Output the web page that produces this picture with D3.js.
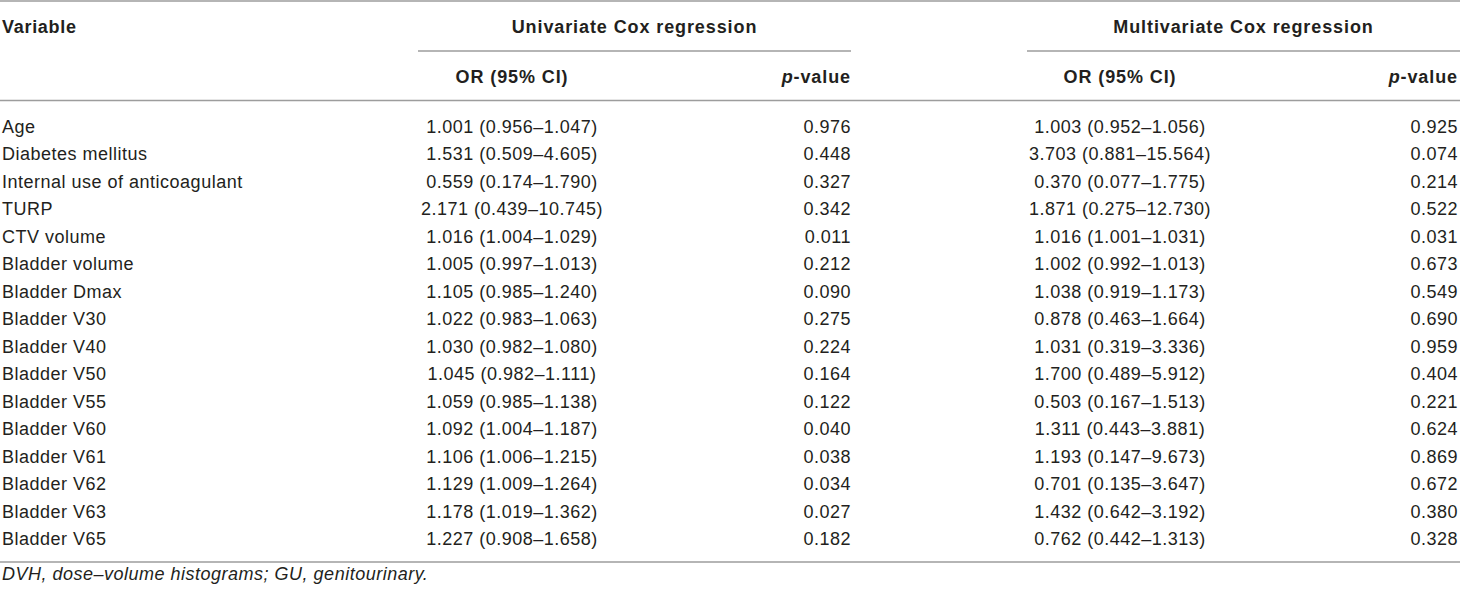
<!DOCTYPE html>
<html>
<head>
<meta charset="utf-8">
<script src="https://cdn.jsdelivr.net/npm/d3@7"></script>
<style>
  body { margin: 0; background: #fff; }
  text { font-family: "Liberation Sans", Arial, sans-serif; fill: #231f20; }
</style>
</head>
<body>
<div id="table"></div>
<script>
const layout = {
    width: 1460,
    height: 593,
    firstRow: 132.5,
    lastRow: 545,
    fontSize: 18
};

// table content
const variables = ["Age", "Diabetes mellitus", "Internal use of anticoagulant", "TURP", "CTV volume",
    "Bladder volume", "Bladder Dmax", "Bladder V30", "Bladder V40", "Bladder V50", "Bladder V55",
    "Bladder V60", "Bladder V61", "Bladder V62", "Bladder V63", "Bladder V65"];
const uniOR = ["1.001 (0.956–1.047)", "1.531 (0.509–4.605)", "0.559 (0.174–1.790)", "2.171 (0.439–10.745)",
    "1.016 (1.004–1.029)", "1.005 (0.997–1.013)", "1.105 (0.985–1.240)", "1.022 (0.983–1.063)",
    "1.030 (0.982–1.080)", "1.045 (0.982–1.111)", "1.059 (0.985–1.138)", "1.092 (1.004–1.187)",
    "1.106 (1.006–1.215)", "1.129 (1.009–1.264)", "1.178 (1.019–1.362)", "1.227 (0.908–1.658)"];
const uniP = ["0.976", "0.448", "0.327", "0.342", "0.011", "0.212", "0.090", "0.275",
    "0.224", "0.164", "0.122", "0.040", "0.038", "0.034", "0.027", "0.182"];
const multiOR = ["1.003 (0.952–1.056)", "3.703 (0.881–15.564)", "0.370 (0.077–1.775)", "1.871 (0.275–12.730)",
    "1.016 (1.001–1.031)", "1.002 (0.992–1.013)", "1.038 (0.919–1.173)", "0.878 (0.463–1.664)",
    "1.031 (0.319–3.336)", "1.700 (0.489–5.912)", "0.503 (0.167–1.513)", "1.311 (0.443–3.881)",
    "1.193 (0.147–9.673)", "0.701 (0.135–3.647)", "1.432 (0.642–3.192)", "0.762 (0.442–1.313)"];
const multiP = ["0.925", "0.074", "0.214", "0.522", "0.031", "0.673", "0.549", "0.690",
    "0.959", "0.404", "0.221", "0.624", "0.869", "0.672", "0.380", "0.328"];
const groupTitles = ["Univariate Cox regression", "Multivariate Cox regression"];
const footnote = "DVH, dose–volume histograms; GU, genitourinary.";

// column positions
const groups = [
    {title: groupTitles[0], x0: 418, x1: 851, orX: 512, pX: 851, or: uniOR, p: uniP},
    {title: groupTitles[1], x0: 1027, x1: 1460, orX: 1120, pX: 1458, or: multiOR, p: multiP}
];

let svg = d3.select("#table").append("svg")
    .attr("width", layout.width)
    .attr("height", layout.height)
    .attr("viewBox", [0, 0, layout.width, layout.height].join(" "));

let yRow = d3.scalePoint()
    .domain(variables)
    .range([layout.firstRow, layout.lastRow]);

function hline(x1, x2, y) {
    svg.append("line")
        .attr("x1", x1).attr("x2", x2)
        .attr("y1", y).attr("y2", y)
        .attr("stroke", "#9d9d9d")
        .attr("stroke-width", 1.6);
}

// rules
hline(0, layout.width, 1);
hline(0, layout.width, 100.5);
hline(0, layout.width, 562);

// header
svg.append("text")
    .attr("x", 2).attr("y", 33)
    .attr("font-size", layout.fontSize)
    .attr("font-weight", "bold")
    .attr("letter-spacing", 0.7)
    .text("Variable");

groups.forEach(g => {
    hline(g.x0, g.x1, 51);
    svg.append("text")
        .attr("x", (g.x0 + g.x1) / 2).attr("y", 33)
        .attr("text-anchor", "middle")
        .attr("font-size", layout.fontSize)
        .attr("font-weight", "bold")
        .attr("letter-spacing", 0.9)
        .text(g.title);
    svg.append("text")
        .attr("x", g.orX).attr("y", 83)
        .attr("text-anchor", "middle")
        .attr("font-size", layout.fontSize)
        .attr("font-weight", "bold")
        .attr("letter-spacing", 0.9)
        .text("OR (95% CI)");
    let pHead = svg.append("text")
        .attr("x", g.pX).attr("y", 83)
        .attr("text-anchor", "end")
        .attr("font-size", layout.fontSize)
        .attr("font-weight", "bold")
        .attr("letter-spacing", 0.9);
    pHead.append("tspan").attr("font-style", "italic").text("p");
    pHead.append("tspan").text("-value");
});

// body rows
let body = svg.append("g")
    .attr("font-size", layout.fontSize)
    .attr("letter-spacing", 0.5);

body.selectAll("text.var").data(variables)
    .join("text")
    .attr("class", "var")
    .attr("x", 2)
    .attr("y", d => yRow(d))
    .text(d => d);

groups.forEach(g => {
    body.append("g").selectAll("text").data(g.or)
        .join("text")
        .attr("x", g.orX)
        .attr("y", (d, i) => yRow(variables[i]))
        .attr("text-anchor", "middle")
        .text(d => d);
    body.append("g").selectAll("text").data(g.p)
        .join("text")
        .attr("x", g.pX)
        .attr("y", (d, i) => yRow(variables[i]))
        .attr("text-anchor", "end")
        .text(d => d);
});

// footnote
svg.append("text")
    .attr("x", 2).attr("y", 580)
    .attr("font-size", layout.fontSize)
    .attr("font-style", "italic")
    .attr("letter-spacing", 0.5)
    .text(footnote);
</script>
</body>
</html>
